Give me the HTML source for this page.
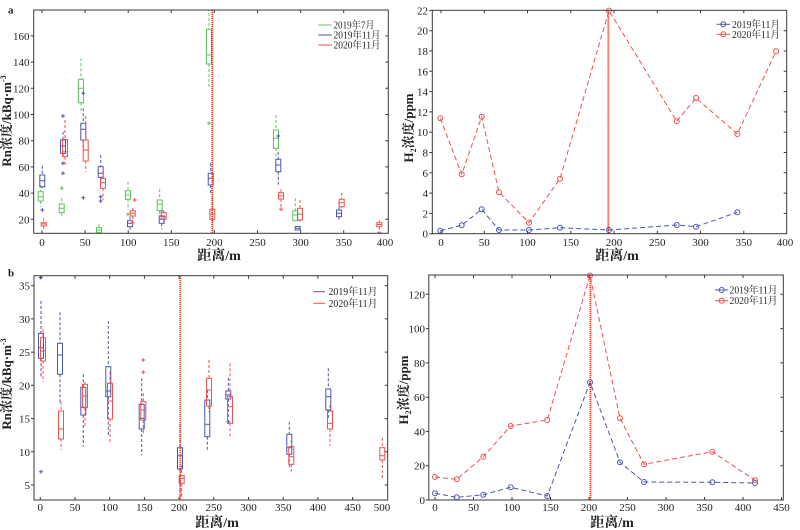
<!DOCTYPE html>
<html><head><meta charset="utf-8">
<style>
html,body{margin:0;padding:0;background:#fff;}
svg{display:block;}
.ax{fill:none;stroke:#3a3a3a;stroke-width:1;}
.tk{stroke:#3a3a3a;stroke-width:1;}
.t{font-family:"Liberation Serif","Noto Serif CJK SC",serif;font-size:11px;fill:#222;}
.lg{font-family:"Liberation Serif","Noto Serif CJK SC",serif;font-size:10px;fill:#222;}
.lab{font-family:"Liberation Serif","Noto Serif CJK SC",serif;font-weight:bold;fill:#222;}
.g{stroke:#5cc45c;fill:none;stroke-width:1;}
.b{stroke:#4a55b0;fill:none;stroke-width:1;}
.r{stroke:#f05050;fill:none;stroke-width:1;}
.d{stroke-dasharray:3 2;}
.vl{stroke:#ff3010;stroke-width:1.8;stroke-dasharray:1.2 0.8;fill:none;}
.ln{stroke-dasharray:5 3;fill:none;stroke-width:1;}
</style></head>
<body>
<svg width="800" height="530" viewBox="0 0 800 530" xmlns="http://www.w3.org/2000/svg">
<rect width="800" height="530" fill="#fff"/>
<defs>
<clipPath id="c1"><rect x="33.7" y="10" width="354.6" height="223.3"/></clipPath>
<clipPath id="c3"><rect x="34" y="275.7" width="353.7" height="224.3"/></clipPath>
</defs>

<!-- ================= Panel a (top-left) ================= -->
<text class="lab" x="8" y="13.5" font-size="11">a</text>
<g clip-path="url(#c1)">
<g class="g"><path class="d" d="M40.7 185V191.7M40.7 201V206.7"/><rect x="38.2" y="191.7" width="5" height="9.3"/><path d="M38.2 196.7h5"/></g>
<g class="b"><path class="d" d="M42.3 165.7V175M42.3 186.7V188"/><rect x="39.8" y="175" width="5" height="11.7"/><path d="M39.8 180.7h5M40.3 210h4M42.3 208v4"/></g>
<g class="r"><path class="d" d="M43.7 218.3V222.7M43.7 226V230"/><rect x="41.2" y="222.7" width="5" height="3.3"/><path d="M41.2 224h5"/></g>
<g class="g"><path class="d" d="M61.7 198.3V204M61.7 212.7V217.3"/><rect x="59.2" y="204" width="5" height="8.7"/><path d="M59.2 208.3h5M59.7 188.3h4M61.7 186.3v4"/></g>
<g class="b"><path class="d" d="M63 131.7V140M63 153.3V156.7"/><rect x="60.5" y="140" width="5" height="13.3"/><path d="M60.5 146h5M61 116h4M63 114v4M61 163.3h4M63 161.3v4M61 173.3h4M63 171.3v4"/></g>
<g class="r"><path class="d" d="M65 120V139.3M65 156.7V165"/><rect x="62.5" y="139.3" width="5" height="17.4"/><path d="M62.5 151.7h5"/></g>
<g class="g"><path class="d" d="M81 58.3V79.3M81 102.7V113.3"/><rect x="78.5" y="79.3" width="5" height="23.4"/><path d="M78.5 88.3h5"/></g>
<g class="b"><path class="d" d="M83.3 108.3V123.3M83.3 140V148.3"/><rect x="80.8" y="123.3" width="5" height="16.7"/><path d="M80.8 129.3h5M81.3 93.3h4M83.3 91.3v4M81.3 197.7h4M83.3 195.7v4"/></g>
<g class="r"><path class="d" d="M85.7 116V140M85.7 161V171.7"/><rect x="83.2" y="140" width="5" height="21"/><path d="M83.2 150h5"/></g>
<g class="g"><path class="d" d="M99 224V227.7"/><rect x="96.5" y="227.7" width="5" height="4.6"/><path d="M96.5 230h5"/></g>
<g class="b"><path class="d" d="M100.7 155V166.7M100.7 177.3V183.3"/><rect x="98.2" y="166.7" width="5" height="10.6"/><path d="M98.2 173.3h5M98.7 196.7h4M100.7 194.7v4M98.7 201h4M100.7 199v4"/></g>
<g class="r"><path class="d" d="M103 168.3V178.3M103 188.3V200"/><rect x="100.5" y="178.3" width="5" height="10"/><path d="M100.5 182.7h5"/></g>
<g class="g"><path class="d" d="M128 181.7V190.7M128 199.3V210"/><rect x="125.5" y="190.7" width="5" height="8.6"/><path d="M125.5 195h5M126 214.3h4M128 212.3v4"/></g>
<g class="b"><path class="d" d="M130 216.7V220.7M130 226.7V230"/><rect x="127.5" y="220.7" width="5" height="6"/><path d="M127.5 223.3h5"/></g>
<g class="r"><path class="d" d="M132.7 208V210.7M132.7 216V222.7"/><rect x="130.2" y="210.7" width="5" height="5.3"/><path d="M130.2 213.3h5M132.7 200h4M134.7 198v4M130.7 222.7h4M132.7 220.7v4"/></g>
<g class="g"><path class="d" d="M159.7 189.3V200M159.7 210.7V215"/><rect x="157.2" y="200" width="5" height="10.7"/><path d="M157.2 204h5"/></g>
<g class="b"><path class="d" d="M161.7 210V216M161.7 223.3V229.3"/><rect x="159.2" y="216" width="5" height="7.3"/><path d="M159.2 219.3h5"/></g>
<g class="r"><path class="d" d="M163.7 210V212.7M163.7 219.3V222.7"/><rect x="161.2" y="212.7" width="5" height="6.6"/><path d="M161.2 216.7h5"/></g>
<g class="g"><path class="d" d="M209 8V29.3M209 64V86.7"/><rect x="206.5" y="29.3" width="5" height="34.7"/><path d="M206.5 55h5M207 123.3h4M209 121.3v4"/></g>
<g class="b"><path class="d" d="M210.7 163.3V173.3M210.7 185V193.3"/><rect x="208.2" y="173.3" width="5" height="11.7"/><path d="M208.2 178.3h5"/></g>
<g class="r"><path class="d" d="M212.3 196.7V209.3M212.3 219.3V223.3"/><rect x="209.8" y="209.3" width="5" height="10"/><path d="M209.8 214h5"/></g>
<g class="g"><path class="d" d="M276 115V130M276 148.3V156.7"/><rect x="273.5" y="130" width="5" height="18.3"/><path d="M273.5 138.3h5"/></g>
<g class="b"><path class="d" d="M278.3 151.7V159.3M278.3 171.7V185"/><rect x="275.8" y="159.3" width="5" height="12.4"/><path d="M275.8 165h5M276.3 136h4M278.3 134v4"/></g>
<g class="r"><path class="d" d="M281 189.3V192.7M281 199V209.3"/><rect x="278.5" y="192.7" width="5" height="6.3"/><path d="M278.5 196h5M279 209.3h4M281 207.3v4"/></g>
<g class="g"><path class="d" d="M295.3 198.3V210.7"/><rect x="292.8" y="210.7" width="5" height="10"/><path d="M292.8 215h5"/></g>
<g class="b"><rect x="295.2" y="226.5" width="5" height="3.5"/><path d="M295.2 228.3h5"/></g>
<g class="r"><path class="d" d="M300 200V208.3M300 220V221.7"/><rect x="297.5" y="208.3" width="5" height="11.7"/><path d="M297.5 214.3h5"/></g>
<g class="b"><path class="d" d="M339 201.7V210M339 216.7V220.7"/><rect x="336.5" y="210" width="5" height="6.7"/><path d="M336.5 213.3h5"/></g>
<g class="r"><path class="d" d="M341.7 192.7V199.3M341.7 206.7V208.3"/><rect x="339.2" y="199.3" width="5" height="7.4"/><path d="M339.2 202.7h5"/></g>
<g class="r"><path class="d" d="M379.3 220V222.7M379.3 226.7V230"/><rect x="376.8" y="222.7" width="5" height="4"/><path d="M376.8 224.5h5M377.3 232.3h4"/></g>
<path class="vl" d="M212.3 10V233.3"/>
</g>
<rect class="ax" x="33.7" y="10" width="354.6" height="223.3"/>
<g class="tk">
<path d="M30.7 219.3h3M30.7 193.1h3M30.7 166.9h3M30.7 140.7h3M30.7 114.5h3M30.7 88.3h3M30.7 62.1h3M30.7 35.9h3"/>
<path d="M385.3 219.3h3M385.3 193.1h3M385.3 166.9h3M385.3 140.7h3M385.3 114.5h3M385.3 88.3h3M385.3 62.1h3M385.3 35.9h3"/>
<path d="M42 233.3v-3M85.1 233.3v-3M128.2 233.3v-3M171.3 233.3v-3M214.4 233.3v-3M257.5 233.3v-3M300.6 233.3v-3M343.7 233.3v-3"/>
<path d="M42 10v3M85.1 10v3M128.2 10v3M171.3 10v3M214.4 10v3M257.5 10v3M300.6 10v3M343.7 10v3"/>
</g>
<g class="t" text-anchor="end">
<text x="29.5" y="223.3">20</text><text x="29.5" y="197.1">40</text><text x="29.5" y="170.9">60</text><text x="29.5" y="144.7">80</text><text x="29.5" y="118.5">100</text><text x="29.5" y="92.3">120</text><text x="29.5" y="66.1">140</text><text x="29.5" y="39.9">160</text>
</g>
<g class="t" text-anchor="middle">
<text x="42" y="246">0</text><text x="85.1" y="246">50</text><text x="128.2" y="246">100</text><text x="171.3" y="246">150</text><text x="214.4" y="246">200</text><text x="257.5" y="246">250</text><text x="300.6" y="246">300</text><text x="343.7" y="246">350</text><text x="385" y="246">400</text>
</g>
<text class="lab" font-size="14" x="219" y="260" text-anchor="middle">距离/m</text>
<text class="lab" font-size="13" transform="translate(11,121) rotate(-90)" text-anchor="middle">Rn浓度/kBq·m<tspan font-size="8" dy="-5">-3</tspan></text>
<path class="g" d="M318.3 25h13.4"/><path class="b" d="M318.3 35h13.4"/><path class="r" d="M318.3 45h13.4"/>
<g class="lg"><text x="333.5" y="28.5" textLength="41" lengthAdjust="spacingAndGlyphs">2019年7月</text><text x="333.5" y="38.5" textLength="47" lengthAdjust="spacingAndGlyphs">2019年11月</text><text x="333.5" y="48.5" textLength="47" lengthAdjust="spacingAndGlyphs">2020年11月</text></g>

<!-- ================= Panel top-right ================= -->
<path class="vl" d="M608.3 10.3V233.7"/>
<polyline class="r ln" points="440.3,118.3 461.7,174.3 481.7,116.7 499,192.3 529,222.7 560,178.7 609,10.6 676.7,121.3 696,98 737.3,134 776,51.3"/>
<polyline class="b ln" points="440.3,230.7 461.7,225.3 481.7,209.3 499,230 529,230 560,227.7 609,230 676.7,225 696,226.7 737.3,212.3"/>
<g class="r"><circle cx="440.3" cy="118.3" r="2.5"/><circle cx="461.7" cy="174.3" r="2.5"/><circle cx="481.7" cy="116.7" r="2.5"/><circle cx="499" cy="192.3" r="2.5"/><circle cx="529" cy="222.7" r="2.5"/><circle cx="560" cy="178.7" r="2.5"/><circle cx="609" cy="10.6" r="2.5"/><circle cx="676.7" cy="121.3" r="2.5"/><circle cx="696" cy="98" r="2.5"/><circle cx="737.3" cy="134" r="2.5"/><circle cx="776" cy="51.3" r="2.5"/></g>
<g class="b"><circle cx="440.3" cy="230.7" r="2.5"/><circle cx="461.7" cy="225.3" r="2.5"/><circle cx="481.7" cy="209.3" r="2.5"/><circle cx="499" cy="230" r="2.5"/><circle cx="529" cy="230" r="2.5"/><circle cx="560" cy="227.7" r="2.5"/><circle cx="609" cy="230" r="2.5"/><circle cx="676.7" cy="225" r="2.5"/><circle cx="696" cy="226.7" r="2.5"/><circle cx="737.3" cy="212.3" r="2.5"/></g>
<rect class="ax" x="432.3" y="10.3" width="354.4" height="223.4"/>
<g class="tk">
<path d="M429.3 233.7h3M429.3 213.4h3M429.3 193.1h3M429.3 172.8h3M429.3 152.5h3M429.3 132.2h3M429.3 111.9h3M429.3 91.6h3M429.3 71.3h3M429.3 51h3M429.3 30.7h3M429.3 10.4h3"/>
<path d="M783.7 213.4h3M783.7 193.1h3M783.7 172.8h3M783.7 152.5h3M783.7 132.2h3M783.7 111.9h3M783.7 91.6h3M783.7 71.3h3M783.7 51h3M783.7 30.7h3"/>
<path d="M441 233.7v-3M484.3 233.7v-3M527.5 233.7v-3M570.8 233.7v-3M614 233.7v-3M657.3 233.7v-3M700.5 233.7v-3M743.8 233.7v-3"/>
<path d="M441 10.3v3M484.3 10.3v3M527.5 10.3v3M570.8 10.3v3M614 10.3v3M657.3 10.3v3M700.5 10.3v3M743.8 10.3v3"/>
</g>
<g class="t" text-anchor="end">
<text x="428" y="237.7">0</text><text x="428" y="217.4">2</text><text x="428" y="197.1">4</text><text x="428" y="176.8">6</text><text x="428" y="156.5">8</text><text x="428" y="136.2">10</text><text x="428" y="115.9">12</text><text x="428" y="95.6">14</text><text x="428" y="75.3">16</text><text x="428" y="55">18</text><text x="428" y="34.7">20</text><text x="428" y="14.4">22</text>
</g>
<g class="t" text-anchor="middle">
<text x="441" y="246">0</text><text x="484.3" y="246">50</text><text x="527.5" y="246">100</text><text x="570.8" y="246">150</text><text x="614" y="246">200</text><text x="657.3" y="246">250</text><text x="700.5" y="246">300</text><text x="743.8" y="246">350</text><text x="785" y="246">400</text>
</g>
<text class="lab" font-size="14" x="617" y="260" text-anchor="middle">距离/m</text>
<text class="lab" font-size="13" transform="translate(413,128) rotate(-90)" text-anchor="middle">H<tspan font-size="8" dy="3">2</tspan><tspan dy="-3">浓度/ppm</tspan></text>
<path class="b" d="M716.7 24.3h13.4"/><circle class="b" cx="723.3" cy="24.3" r="2.5"/>
<path class="r" d="M716.7 34.3h13.4"/><circle class="r" cx="723.3" cy="34.3" r="2.5"/>
<g class="lg"><text x="732" y="27.8" textLength="48" lengthAdjust="spacingAndGlyphs">2019年11月</text><text x="732" y="37.8" textLength="48" lengthAdjust="spacingAndGlyphs">2020年11月</text></g>

<!-- ================= Panel b (bottom-left) ================= -->
<text class="lab" x="8" y="276.5" font-size="11">b</text>
<g clip-path="url(#c3)">
<g class="b"><path class="d" d="M41 301V333.3M41 358.3V376.7"/><rect x="38.5" y="333.3" width="5" height="25"/><path d="M38.5 347.7h5M39 277.5h4M41 275.5v4M39 471.7h4M41 469.7v4"/></g>
<g class="r"><path class="d" d="M43 329V337.7M43 361V381.7"/><rect x="40.5" y="337.7" width="5" height="23.3"/><path d="M40.5 351h5"/></g>
<g class="b"><path class="d" d="M60 312.3V343.3M60 374.3V402.3"/><rect x="57.5" y="343.3" width="5" height="31"/><path d="M57.5 355h5"/></g>
<g class="r"><path class="d" d="M61 401.7V411M61 439V450"/><rect x="58.5" y="411" width="5" height="28"/><path d="M58.5 429h5"/></g>
<g class="b"><path class="d" d="M83.3 374.3V387.3M83.3 415V446.7"/><rect x="80.8" y="387.3" width="5" height="27.7"/><path d="M80.8 407.3h5"/></g>
<g class="r"><path class="d" d="M85 381.7V384.3M85 407.7V426.7"/><rect x="82.5" y="384.3" width="5" height="23.4"/><path d="M82.5 396h5"/></g>
<g class="b"><path class="d" d="M108.3 321V366.7M108.3 396.7V436.7"/><rect x="105.8" y="366.7" width="5" height="30"/><path d="M105.8 391h5"/></g>
<g class="r"><path class="d" d="M110 371.7V383.3M110 419V443.3"/><rect x="107.5" y="383.3" width="5" height="35.7"/><path d="M107.5 401h5"/></g>
<g class="b"><path class="d" d="M141.7 378.3V404.3M141.7 429V455"/><rect x="139.2" y="404.3" width="5" height="24.7"/><path d="M139.2 418.3h5"/></g>
<g class="r"><path class="d" d="M143.3 393.3V401.7M143.3 420V434.3"/><rect x="140.8" y="401.7" width="5" height="18.3"/><path d="M140.8 410h5M141.3 360h4M143.3 358v4M141.3 372.3h4M143.3 370.3v4"/></g>
<g class="b"><path class="d" d="M180 424.3V447.7M180 469V498"/><rect x="177.5" y="447.7" width="5" height="21.3"/><path d="M177.5 455.7h5"/></g>
<g class="r"><path class="d" d="M181.7 465V475.7M181.7 483.3V498"/><rect x="179.2" y="475.7" width="5" height="7.6"/><path d="M179.2 478.3h5"/></g>
<g class="b"><path class="d" d="M207.3 390V400M207.3 436.7V451.7"/><rect x="204.8" y="400" width="5" height="36.7"/><path d="M204.8 424.3h5"/></g>
<g class="r"><path class="d" d="M209 360V378.3M209 406V411.7"/><rect x="206.5" y="378.3" width="5" height="27.7"/><path d="M206.5 390h5"/></g>
<g class="b"><path class="d" d="M228.3 377.7V391M228.3 399V419"/><rect x="225.8" y="391" width="5" height="8"/><path d="M225.8 395h5M226.3 421.7h4M228.3 419.7v4"/></g>
<g class="r"><path class="d" d="M230 363.3V396.7M230 423.3V436.7"/><rect x="227.5" y="396.7" width="5" height="26.6"/><path d="M227.5 406.7h5"/></g>
<g class="b"><path class="d" d="M289.3 421.7V434.3M289.3 454.3V468.3"/><rect x="286.8" y="434.3" width="5" height="20"/><path d="M286.8 447.7h5"/></g>
<g class="r"><path class="d" d="M291.3 440V446.7M291.3 464.3V471.7"/><rect x="288.8" y="446.7" width="5" height="17.6"/><path d="M288.8 456.7h5"/></g>
<g class="b"><path class="d" d="M328.3 368.3V389M328.3 410V420"/><rect x="325.8" y="389" width="5" height="21"/><path d="M325.8 396.7h5"/></g>
<g class="r"><path class="d" d="M330 405V411M330 429V445.7"/><rect x="327.5" y="411" width="5" height="18"/><path d="M327.5 423.3h5"/></g>
<g class="r"><path class="d" d="M382.3 437.7V447.7M382.3 460V478.3"/><rect x="379.8" y="447.7" width="5" height="12.3"/><path d="M379.8 455.7h5"/></g>
<path class="vl" d="M180.3 275.7V500"/>
</g>
<rect class="ax" x="34" y="275.7" width="353.7" height="224.3"/>
<g class="tk">
<path d="M31 485h3M31 451.8h3M31 418.6h3M31 385.3h3M31 352.1h3M31 318.9h3M31 285.7h3"/>
<path d="M384.7 485h3M384.7 451.8h3M384.7 418.6h3M384.7 385.3h3M384.7 352.1h3M384.7 318.9h3M384.7 285.7h3"/>
<path d="M40.3 500v-3M75 500v-3M109.7 500v-3M144.4 500v-3M179.1 500v-3M213.8 500v-3M248.5 500v-3M283.2 500v-3M317.9 500v-3M352.6 500v-3"/>
<path d="M40.3 275.7v3M75 275.7v3M109.7 275.7v3M144.4 275.7v3M179.1 275.7v3M213.8 275.7v3M248.5 275.7v3M283.2 275.7v3M317.9 275.7v3M352.6 275.7v3"/>
</g>
<g class="t" text-anchor="end">
<text x="30" y="489">5</text><text x="30" y="455.8">10</text><text x="30" y="422.6">15</text><text x="30" y="389.3">20</text><text x="30" y="356.1">25</text><text x="30" y="322.9">30</text><text x="30" y="289.7">35</text>
</g>
<g class="t" text-anchor="middle">
<text x="40.3" y="511">0</text><text x="75" y="511">50</text><text x="109.7" y="511">100</text><text x="144.4" y="511">150</text><text x="179.1" y="511">200</text><text x="213.8" y="511">250</text><text x="248.5" y="511">300</text><text x="283.2" y="511">350</text><text x="317.9" y="511">400</text><text x="352.6" y="511">450</text><text x="382" y="511">500</text>
</g>
<text class="lab" font-size="14" x="217" y="527" text-anchor="middle">距离/m</text>
<text class="lab" font-size="13" transform="translate(11,384) rotate(-90)" text-anchor="middle">Rn浓度/kBq·m<tspan font-size="8" dy="-5">-3</tspan></text>
<path class="b" d="M313.3 291.7h11.7"/><path class="r" d="M313.3 303.3h11.7"/>
<g class="lg"><text x="328.5" y="295.2" textLength="49" lengthAdjust="spacingAndGlyphs">2019年11月</text><text x="328.5" y="306.8" textLength="49" lengthAdjust="spacingAndGlyphs">2020年11月</text></g>

<!-- ================= Panel bottom-right ================= -->
<path class="vl" d="M590.4 275V500"/>
<polyline class="r ln" points="435,477 456.7,479.3 483.3,456.7 510.7,426 547.3,420 590,275.5 620,418.3 644,464.3 712.3,451.7 755,480.3"/>
<polyline class="b ln" points="435,493.3 456.7,497.3 483.3,494.7 510.7,487.3 547.3,496 590,382.3 620,462.3 644,482 712.3,482.3 755,483"/>
<g class="r"><circle cx="435" cy="477" r="2.5"/><circle cx="456.7" cy="479.3" r="2.5"/><circle cx="483.3" cy="456.7" r="2.5"/><circle cx="510.7" cy="426" r="2.5"/><circle cx="547.3" cy="420" r="2.5"/><circle cx="590" cy="275.5" r="2.5"/><circle cx="620" cy="418.3" r="2.5"/><circle cx="644" cy="464.3" r="2.5"/><circle cx="712.3" cy="451.7" r="2.5"/><circle cx="755" cy="480.3" r="2.5"/></g>
<g class="b"><circle cx="435" cy="493.3" r="2.5"/><circle cx="456.7" cy="497.3" r="2.5"/><circle cx="483.3" cy="494.7" r="2.5"/><circle cx="510.7" cy="487.3" r="2.5"/><circle cx="547.3" cy="496" r="2.5"/><circle cx="590" cy="382.3" r="2.5"/><circle cx="620" cy="462.3" r="2.5"/><circle cx="644" cy="482" r="2.5"/><circle cx="712.3" cy="482.3" r="2.5"/><circle cx="755" cy="483" r="2.5"/></g>
<rect class="ax" x="428.8" y="275" width="354.5" height="225"/>
<g class="tk">
<path d="M425.8 500h3M425.8 465.7h3M425.8 431.4h3M425.8 397.2h3M425.8 362.9h3M425.8 328.6h3M425.8 294.3h3"/>
<path d="M780.3 465.7h3M780.3 431.4h3M780.3 397.2h3M780.3 362.9h3M780.3 328.6h3M780.3 294.3h3"/>
<path d="M435 500v-3M473.5 500v-3M512 500v-3M550.5 500v-3M589 500v-3M627.5 500v-3M666 500v-3M704.5 500v-3M743 500v-3M781.5 500v-3"/>
<path d="M435 275v3M473.5 275v3M512 275v3M550.5 275v3M589 275v3M627.5 275v3M666 275v3M704.5 275v3M743 275v3"/>
</g>
<g class="t" text-anchor="end">
<text x="425" y="504">0</text><text x="425" y="469.7">20</text><text x="425" y="435.4">40</text><text x="425" y="401.2">60</text><text x="425" y="366.9">80</text><text x="425" y="332.6">100</text><text x="425" y="298.3">120</text>
</g>
<g class="t" text-anchor="middle">
<text x="435" y="511">0</text><text x="473.5" y="511">50</text><text x="512" y="511">100</text><text x="550.5" y="511">150</text><text x="589" y="511">200</text><text x="627.5" y="511">250</text><text x="666" y="511">300</text><text x="704.5" y="511">350</text><text x="743" y="511">400</text><text x="781.5" y="511">450</text>
</g>
<text class="lab" font-size="14" x="612" y="527" text-anchor="middle">距离/m</text>
<text class="lab" font-size="13" transform="translate(408,390) rotate(-90)" text-anchor="middle">H<tspan font-size="8" dy="3">2</tspan><tspan dy="-3">浓度/ppm</tspan></text>
<path class="b" d="M715 290h13.3"/><circle class="b" cx="721.7" cy="290" r="2.5"/>
<path class="r" d="M715 300.7h13.3"/><circle class="r" cx="721.7" cy="300.7" r="2.5"/>
<g class="lg"><text x="729.5" y="293.5" textLength="48" lengthAdjust="spacingAndGlyphs">2019年11月</text><text x="729.5" y="304.2" textLength="48" lengthAdjust="spacingAndGlyphs">2020年11月</text></g>
</svg>
</body></html>
